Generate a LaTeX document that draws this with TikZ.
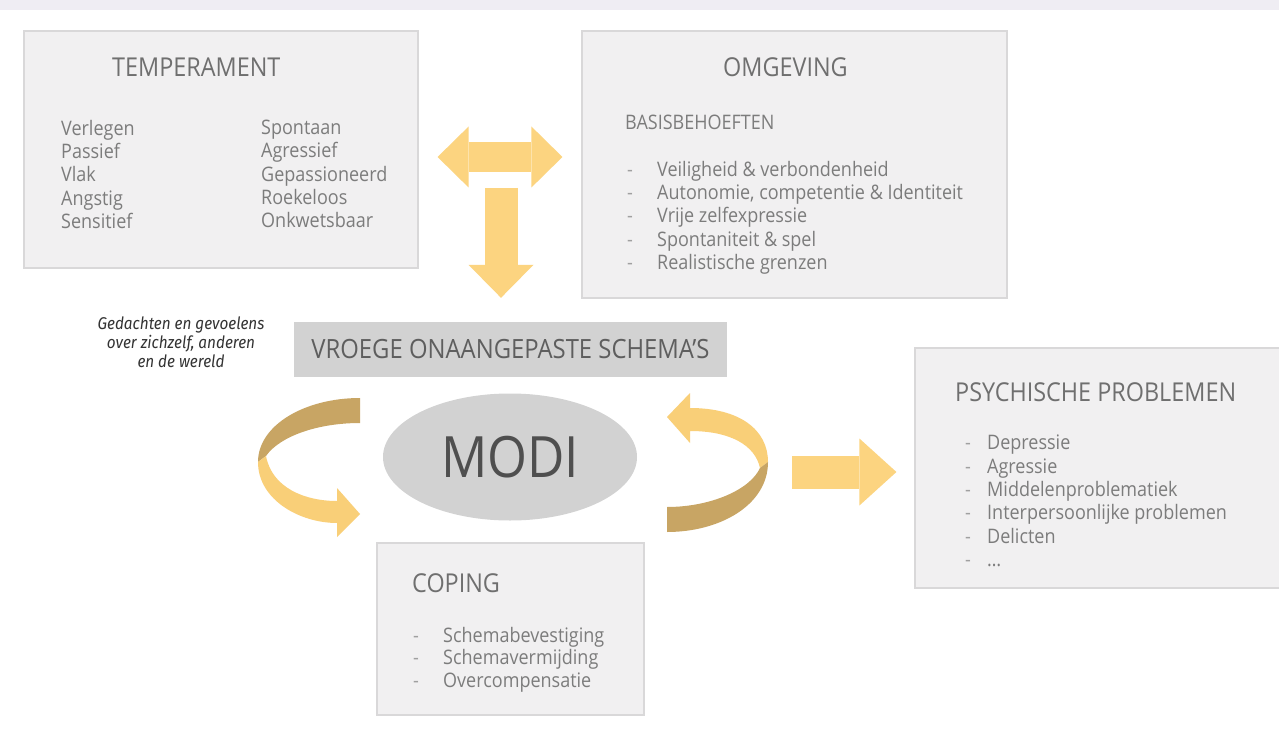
\documentclass[tikz,border=0pt]{standalone}
\usepackage{fontspec}
\setmainfont{Open Sans}[FakeStretch=0.9]
\newfontfamily\notefont{Fira Sans}[FakeStretch=0.9]
\usepackage{xcolor}
\usetikzlibrary{arrows.meta,shapes.geometric}

\definecolor{boxfill}{HTML}{F1F0F1}
\definecolor{boxline}{HTML}{D9D8D9}
\definecolor{schemagray}{HTML}{D2D2D2}
\definecolor{titlegray}{HTML}{6F6F6F}
\definecolor{itemgray}{HTML}{7C7C7C}
\definecolor{dashgray}{HTML}{A0A0A0}
\definecolor{arrowyellow}{HTML}{FCD480}
\definecolor{ribbonlight}{HTML}{F9CF78}
\definecolor{ribbondark}{HTML}{C8A564}
\definecolor{topband}{HTML}{EFEDF3}

% dash followed by an item, the dash column is #1 wide
\newcommand{\dashitem}[2]{\makebox[#1][l]{\textcolor{dashgray}{-}}#2}

\tikzset{
  panel/.style={draw=boxline, fill=boxfill, line width=1.2pt, inner sep=0pt},
  title/.style={text=titlegray, font=\fontsize{26}{30}\selectfont, anchor=base west, inner sep=0pt},
  items/.style={text=itemgray, font=\fontsize{20}{23.3}\selectfont, align=left, anchor=north west, inner sep=0pt},
  flatarrow/.style={draw=arrowyellow, line width=#1},
}

\begin{document}
\begin{tikzpicture}[x=1pt, y=-1pt]
    \fill[white] (0,0) rectangle (1279,730);
    \useasboundingbox (0,0) rectangle (1279,730);
    \fill[topband] (0,0) rectangle (1279,10);

    % panels
    \node[panel, minimum width=394pt, minimum height=237pt] (temp) at (221,149.5) {};
    \node[panel, minimum width=425pt, minimum height=267pt] (omg) at (794.5,164.5) {};
    \node[panel, minimum width=267pt, minimum height=172pt] (coping) at (510.5,629) {};
    \node[panel, minimum width=366pt, minimum height=240pt] (psy) at (1098,468) {};
    \node[fill=schemagray, minimum width=433pt, minimum height=55pt, text=black!63, font=\fontsize{26.5}{30}\selectfont] (schema) at (510.5,349.5) {VROEGE ONAANGEPASTE SCHEMA'S};
    \node[ellipse, fill=schemagray, minimum width=254pt, minimum height=127pt, text=black!69, font=\fontsize{57}{60}\selectfont] (modi) at (510,457) {MODI};

    % temperament
    \node[title] (temptitle) at (112,76.5) {TEMPERAMENT};
    \node[items] (templeft) at (61,120) {Verlegen\\Passief\\Vlak\\Angstig\\Sensitief};
    \node[items] (tempright) at (261,120) {Spontaan\\Agressief\\Gepassioneerd\\Roekeloos\\Onkwetsbaar};

    % omgeving
    \node[title] (omgtitle) at (723,76.5) {OMGEVING};
    \node[items, anchor=base west] (basis) at (625,130) {BASISBEHOEFTEN};
    \node[items] (omglist) at (627,161) {\dashitem{30pt}{Veiligheid \& verbondenheid}\\\dashitem{30pt}{Autonomie, competentie \& Identiteit}\\\dashitem{30pt}{Vrije zelfexpressie}\\\dashitem{30pt}{Spontaniteit \& spel}\\\dashitem{30pt}{Realistische grenzen}};

    % coping
    \node[title] (copingtitle) at (412,592) {COPING};
    \node[items, font=\fontsize{20}{22.5}\selectfont] (copinglist) at (413,627) {\dashitem{30pt}{Schemabevestiging}\\\dashitem{30pt}{Schemavermijding}\\\dashitem{30pt}{Overcompensatie}};

    % psychische problemen
    \node[title] (psytitle) at (955,401) {PSYCHISCHE PROBLEMEN};
    \node[items] (psylist) at (965,435) {\dashitem{22pt}{Depressie}\\\dashitem{22pt}{Agressie}\\\dashitem{22pt}{Middelenproblematiek}\\\dashitem{22pt}{Interpersoonlijke problemen}\\\dashitem{22pt}{Delicten}\\\dashitem{22pt}{\dots}};

    \node[align=center, anchor=north, inner sep=0pt, text=black!80, font=\notefont\itshape\fontsize{17}{19}\selectfont] (thoughts) at (181,317) {Gedachten en gevoelens\\over zichzelf, anderen\\en de wereld};

    % flat arrows
    \draw[flatarrow=30pt, {Triangle[length=31pt,width=61pt,line width=0pt]}-{Triangle[length=31pt,width=61pt,line width=0pt]}] ([xshift=19pt,yshift=-7.5pt]temp.east) -- ([xshift=-19pt,yshift=7.5pt]omg.west);
    \draw[flatarrow=33pt, -{Triangle[length=33pt,width=65pt,line width=0pt]}] ([xshift=-9.5pt,yshift=134pt]schema.north) -- ([xshift=-9.5pt,yshift=24pt]schema.north);
    \draw[flatarrow=33pt, -{Triangle[length=37pt,width=67pt,line width=0pt]}] ([xshift=-122pt,yshift=-4pt]psy.west) -- ([xshift=-18pt,yshift=-4pt]psy.west);

    % curved ribbons round modi
    \fill[ribbondark] (360,398) .. controls (305,398) and (258,425) .. (258,462) -- (266,456) .. controls (280,436) and (318,423) .. (360,423) -- cycle;
    \fill[ribbonlight] (258,462) .. controls (258,500) and (300,523) .. (337,523) -- (337,537) -- (360,514) -- (337,488) -- (337,501) .. controls (305,501) and (272,488) .. (266,456) -- cycle;
    \fill[ribbonlight] (690,393) -- (667,417) -- (690,443) -- (690,431) .. controls (730,431) and (755,445) .. (760,468) -- (768,462) .. controls (768,430) and (740,408) .. (690,408) -- cycle;
    \fill[ribbondark] (768,462) .. controls (768,505) and (720,532) .. (667,532) -- (667,507) .. controls (710,507) and (750,490) .. (760,468) -- cycle;
\end{tikzpicture}
\end{document}
